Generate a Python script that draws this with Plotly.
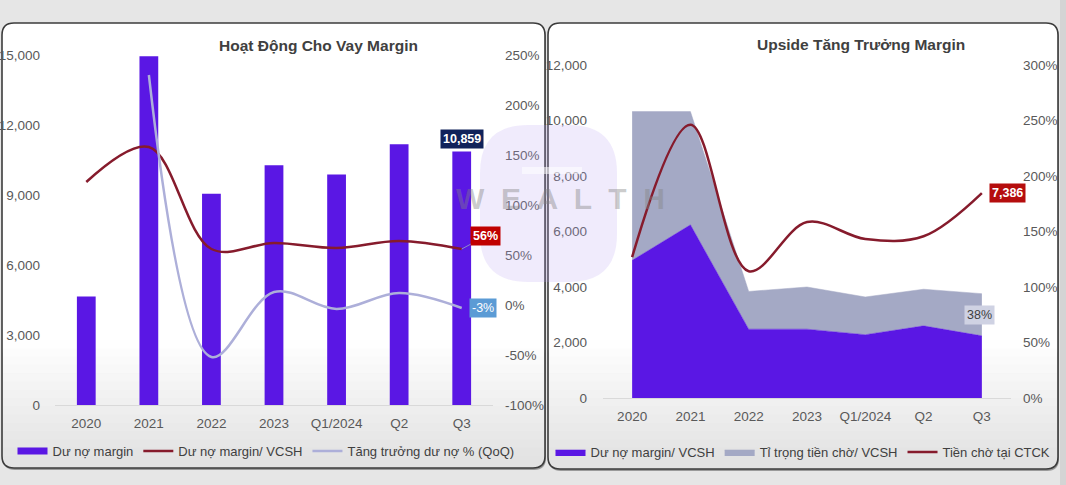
import plotly.graph_objects as go

# ---------------- data ----------------
categories = ["2020", "2021", "2022", "2023", "Q1/2024", "Q2", "Q3"]

# Left chart: Hoạt Động Cho Vay Margin
du_no_margin = [4650, 14950, 9050, 10270, 9880, 11170, 10859]          # bars (left axis)
du_no_margin_vcsh_left = [123, 158, 56, 62, 57, 64, 56]                 # % (right axis)
tang_truong_qoq = [None, 230, -52, 13, -4, 12, -3]                      # % (right axis)

# Right chart: Upside Tăng Trưởng Margin
margin_vcsh_pct = [124, 156, 62, 62, 57, 65, 56]                        # % stacked area
tien_cho_vcsh_pct = [134, 102, 34, 38, 34, 33, 38]                      # % stacked area
tien_cho_ctck = [5080, 9850, 4570, 6340, 5730, 5830, 7386]              # left axis line

left_pct_ticks = list(range(-100, 251, 50))
right_pct_ticks = list(range(0, 301, 50))

W, H = 1066, 485
def X(px):
    return px / W
def Y(py):
    return 1 - py / H

PURPLE = "#5A17E4"
DARKRED = "#861B2C"
LAVENDER = "#ADAFD9"
GRAYAREA = "#A4A9C5"
FONT = "Liberation Sans, Arial, sans-serif"
TICK = dict(family=FONT, size=13.5, color="#595959")

fig = go.Figure()

# ---- left panel traces ----
fig.add_trace(go.Bar(x=categories, y=du_no_margin, name="Dư nợ margin", showlegend=False,
                     marker=dict(color=PURPLE, line=dict(width=0)), width=0.3,
                     xaxis="x", yaxis="y", legend="legend"))
# legend entry for the bars (wide rectangle symbol like the original)
fig.add_trace(go.Scatter(x=[None], y=[None], name="Dư nợ margin", mode="lines",
                         line=dict(color=PURPLE, width=7), xaxis="x", yaxis="y", legend="legend",
                         hoverinfo="skip"))
fig.add_trace(go.Scatter(x=categories, y=du_no_margin_vcsh_left, name="Dư nợ margin/ VCSH",
                         mode="lines", line=dict(color=DARKRED, width=2.5, shape="spline", smoothing=1.0),
                         xaxis="x", yaxis="y2", legend="legend"))
fig.add_trace(go.Scatter(x=categories, y=tang_truong_qoq, name="Tăng trưởng dư nợ % (QoQ)",
                         mode="lines", line=dict(color=LAVENDER, width=2.5, shape="spline", smoothing=1.0),
                         connectgaps=False, xaxis="x", yaxis="y2", legend="legend"))

# ---- right panel traces ----
fig.add_trace(go.Scatter(x=categories, y=margin_vcsh_pct, name="Dư nợ margin/ VCSH",
                         mode="lines", line=dict(color=PURPLE, width=0.5), fillcolor=PURPLE,
                         stackgroup="s", xaxis="x2", yaxis="y3", legend="legend2"))
fig.add_trace(go.Scatter(x=categories, y=tien_cho_vcsh_pct, name="Tỉ trọng tiền chờ/ VCSH",
                         mode="lines", line=dict(color=GRAYAREA, width=0.5), fillcolor=GRAYAREA,
                         stackgroup="s", xaxis="x2", yaxis="y3", legend="legend2"))
fig.add_trace(go.Scatter(x=categories, y=tien_cho_ctck, name="Tiền chờ tại CTCK",
                         mode="lines", line=dict(color=DARKRED, width=2.5, shape="spline", smoothing=1.0),
                         xaxis="x2", yaxis="y4", legend="legend2"))

# ---- axes ----
common_x = dict(type="category", categoryorder="array", categoryarray=categories,
                range=[-0.5, 6.5], showgrid=False, zeroline=False, showline=True, automargin=False,
                linecolor="#d9d9d9", linewidth=1, ticks="", tickfont=TICK, ticklabelstandoff=6)
common_y = dict(showgrid=False, zeroline=False, showline=False, tickfont=TICK, automargin=False)
fig.update_layout(
    xaxis=dict(domain=[X(55), X(493)], anchor="y", **common_x),
    yaxis=dict(domain=[Y(405), Y(55)], anchor="x", range=[0, 15000],
               tickvals=list(range(0, 15001, 3000)), tickformat=",", ticklabelstandoff=14, **common_y),
    yaxis2=dict(overlaying="y", side="right", anchor="x", range=[-100, 250],
                tickmode="array", tickvals=left_pct_ticks, ticktext=[f"{v}%" for v in left_pct_ticks],
                ticklabelstandoff=11, **common_y),
    xaxis2=dict(domain=[X(603), X(1011)], anchor="y3", **common_x),
    yaxis3=dict(domain=[Y(398), Y(65)], anchor="x2", side="right", range=[0, 300],
                tickmode="array", tickvals=right_pct_ticks, ticktext=[f"{v}%" for v in right_pct_ticks],
                ticklabelstandoff=11, **common_y),
    yaxis4=dict(overlaying="y3", side="left", anchor="x2", range=[0, 12000],
                tickvals=list(range(0, 12001, 2000)), tickformat=",", ticklabelstandoff=15, **common_y),
)

# ---- legends ----
leg_font = dict(family=FONT, size=13, color="#404040")
fig.update_layout(
    legend=dict(orientation="h", x=X(266), xanchor="center", y=Y(451), yanchor="middle",
                font=leg_font, bgcolor="rgba(0,0,0,0)", itemwidth=30, tracegroupgap=0,
                traceorder="normal"),
    legend2=dict(orientation="h", x=X(803), xanchor="center", y=Y(452), yanchor="middle",
                 font=leg_font, bgcolor="rgba(0,0,0,0)", itemwidth=30, tracegroupgap=0,
                 traceorder="normal"),
)

# ---- panel backgrounds (rounded rects with bottom gradient) ----
def rounded(x0, y0, x1, y1, r):
    return (f"M {X(x0+r)},{Y(y0)} L {X(x1-r)},{Y(y0)} Q {X(x1)},{Y(y0)} {X(x1)},{Y(y0+r)} "
            f"L {X(x1)},{Y(y1-r)} Q {X(x1)},{Y(y1)} {X(x1-r)},{Y(y1)} "
            f"L {X(x0+r)},{Y(y1)} Q {X(x0)},{Y(y1)} {X(x0)},{Y(y1-r)} "
            f"L {X(x0)},{Y(y0+r)} Q {X(x0)},{Y(y0)} {X(x0+r)},{Y(y0)} Z")

shapes = []
panels = [(2, 23, 545, 468), (548, 23, 1058, 469)]
for (x0, y0, x1, y1) in panels:
    shapes.append(dict(type="path", path=rounded(x0 + 1, y0 + 2, x1 + 1, y1 + 2, 12),
                       xref="paper", yref="paper", fillcolor="#9a9a9a", line=dict(width=0), layer="below"))
    shapes.append(dict(type="path", path=rounded(x0, y0, x1, y1, 12), xref="paper", yref="paper",
                       fillcolor="#e3e3e3", line=dict(width=0), layer="below"))
    shapes.append(dict(type="path", path=rounded(x0, y0, x1, 360, 12), xref="paper", yref="paper",
                       fillcolor="white", line=dict(width=0), layer="below"))
    shapes.append(dict(type="rect", xref="paper", yref="paper", x0=X(x0 + 1), x1=X(x1 - 1),
                       y0=Y(345), y1=Y(y0 + 14), fillcolor="white", line=dict(width=0), layer="below"))
    n = 14
    top, bot = 340, 456
    for i in range(n):
        a = top + (bot - top) * i / n
        b = top + (bot - top) * (i + 1) / n
        t = (i + 0.5) / n
        c = int(round(255 - (255 - 227) * t))
        shapes.append(dict(type="rect", xref="paper", yref="paper", x0=X(x0 + 1), x1=X(x1 - 1),
                           y0=Y(b + 0.5), y1=Y(a), fillcolor=f"rgb({c},{c},{c})",
                           line=dict(width=0), layer="below"))
    shapes.append(dict(type="path", path=rounded(x0, y0, x1, y1, 12), xref="paper", yref="paper",
                       fillcolor="rgba(0,0,0,0)", line=dict(color="#3c3c3c", width=1.6), layer="below"))

# right edge strip
shapes.append(dict(type="rect", xref="paper", yref="paper", x0=X(1060), x1=1, y0=0, y1=1,
                   fillcolor="#d4d4d4", line=dict(width=0), layer="below"))

# watermark logo (faint)
shapes.append(dict(type="path", path=rounded(480, 125, 617, 282, 48), xref="paper", yref="paper",
                   fillcolor="rgba(185,165,240,0.22)", line=dict(width=0), layer="above"))
shapes.append(dict(type="rect", xref="paper", yref="paper", x0=X(522), x1=X(582), y0=Y(174), y1=Y(167),
                   fillcolor="rgba(255,255,255,0.55)", line=dict(width=0), layer="above"))
fig.update_layout(shapes=shapes)

# ---- annotations ----
ann = []
title_font = dict(family=FONT, size=15.5, color="#404040")
ann.append(dict(text="<b>Hoạt Động Cho Vay Margin</b>", xref="paper", yref="paper",
                x=X(318), y=Y(45), xanchor="center", yanchor="middle", showarrow=False, font=title_font))
ann.append(dict(text="<b>Upside Tăng Trưởng Margin</b>", xref="paper", yref="paper",
                x=X(861), y=Y(44), xanchor="center", yanchor="middle", showarrow=False, font=title_font))
ann.append(dict(text="<b>W  E  A  L  T  H</b>", xref="paper", yref="paper", x=X(560), y=Y(198),
                xanchor="center", yanchor="middle", showarrow=False,
                font=dict(family=FONT, size=30, color="rgba(130,130,130,0.42)")))

lab_font = dict(family=FONT, size=12.5, color="white")
last = categories[-1]
ann.append(dict(text=f"<b>{du_no_margin[-1]:,}</b>", x=last, y=du_no_margin[-1], xref="x", yref="y",
                showarrow=False, yshift=13, bgcolor="#10225A", borderpad=2, font=lab_font))
ann.append(dict(text=f"<b>{du_no_margin_vcsh_left[-1]}%</b>", x=last, y=du_no_margin_vcsh_left[-1],
                xref="x", yref="y2", showarrow=True, ax=24, ay=-13, arrowhead=0, arrowwidth=1,
                arrowcolor="#8c8cc8", bgcolor="#C00000", borderpad=2, font=lab_font))
ann.append(dict(text=f"{tang_truong_qoq[-1]}%", x=last, y=tang_truong_qoq[-1], xref="x", yref="y2",
                showarrow=False, xshift=21, bgcolor="#5B9BD5", borderpad=2, font=lab_font))
ann.append(dict(text=f"<b>{tien_cho_ctck[-1]:,}</b>", x=last, y=tien_cho_ctck[-1], xref="x2", yref="y4",
                showarrow=False, xshift=26, bgcolor="#B50D0D", borderpad=2, font=lab_font))
ann.append(dict(text=f"{tien_cho_vcsh_pct[-1]}%", x=last,
                y=margin_vcsh_pct[-1] + tien_cho_vcsh_pct[-1] / 2, xref="x2", yref="y3",
                showarrow=False, xshift=-2, bgcolor="#CFD2E3", borderpad=2,
                font=dict(family=FONT, size=12.5, color="#404040")))
fig.update_layout(annotations=ann)

fig.update_layout(width=W, height=H, margin=dict(l=0, r=0, t=0, b=0, autoexpand=False),
                  paper_bgcolor="#e6e6e6", plot_bgcolor="rgba(0,0,0,0)",
                  bargap=0.7, showlegend=True)

fig.write_html("out.html", config={"displayModeBar": False},
               post_script="document.body.style.margin='0';document.body.style.overflow='hidden';")
